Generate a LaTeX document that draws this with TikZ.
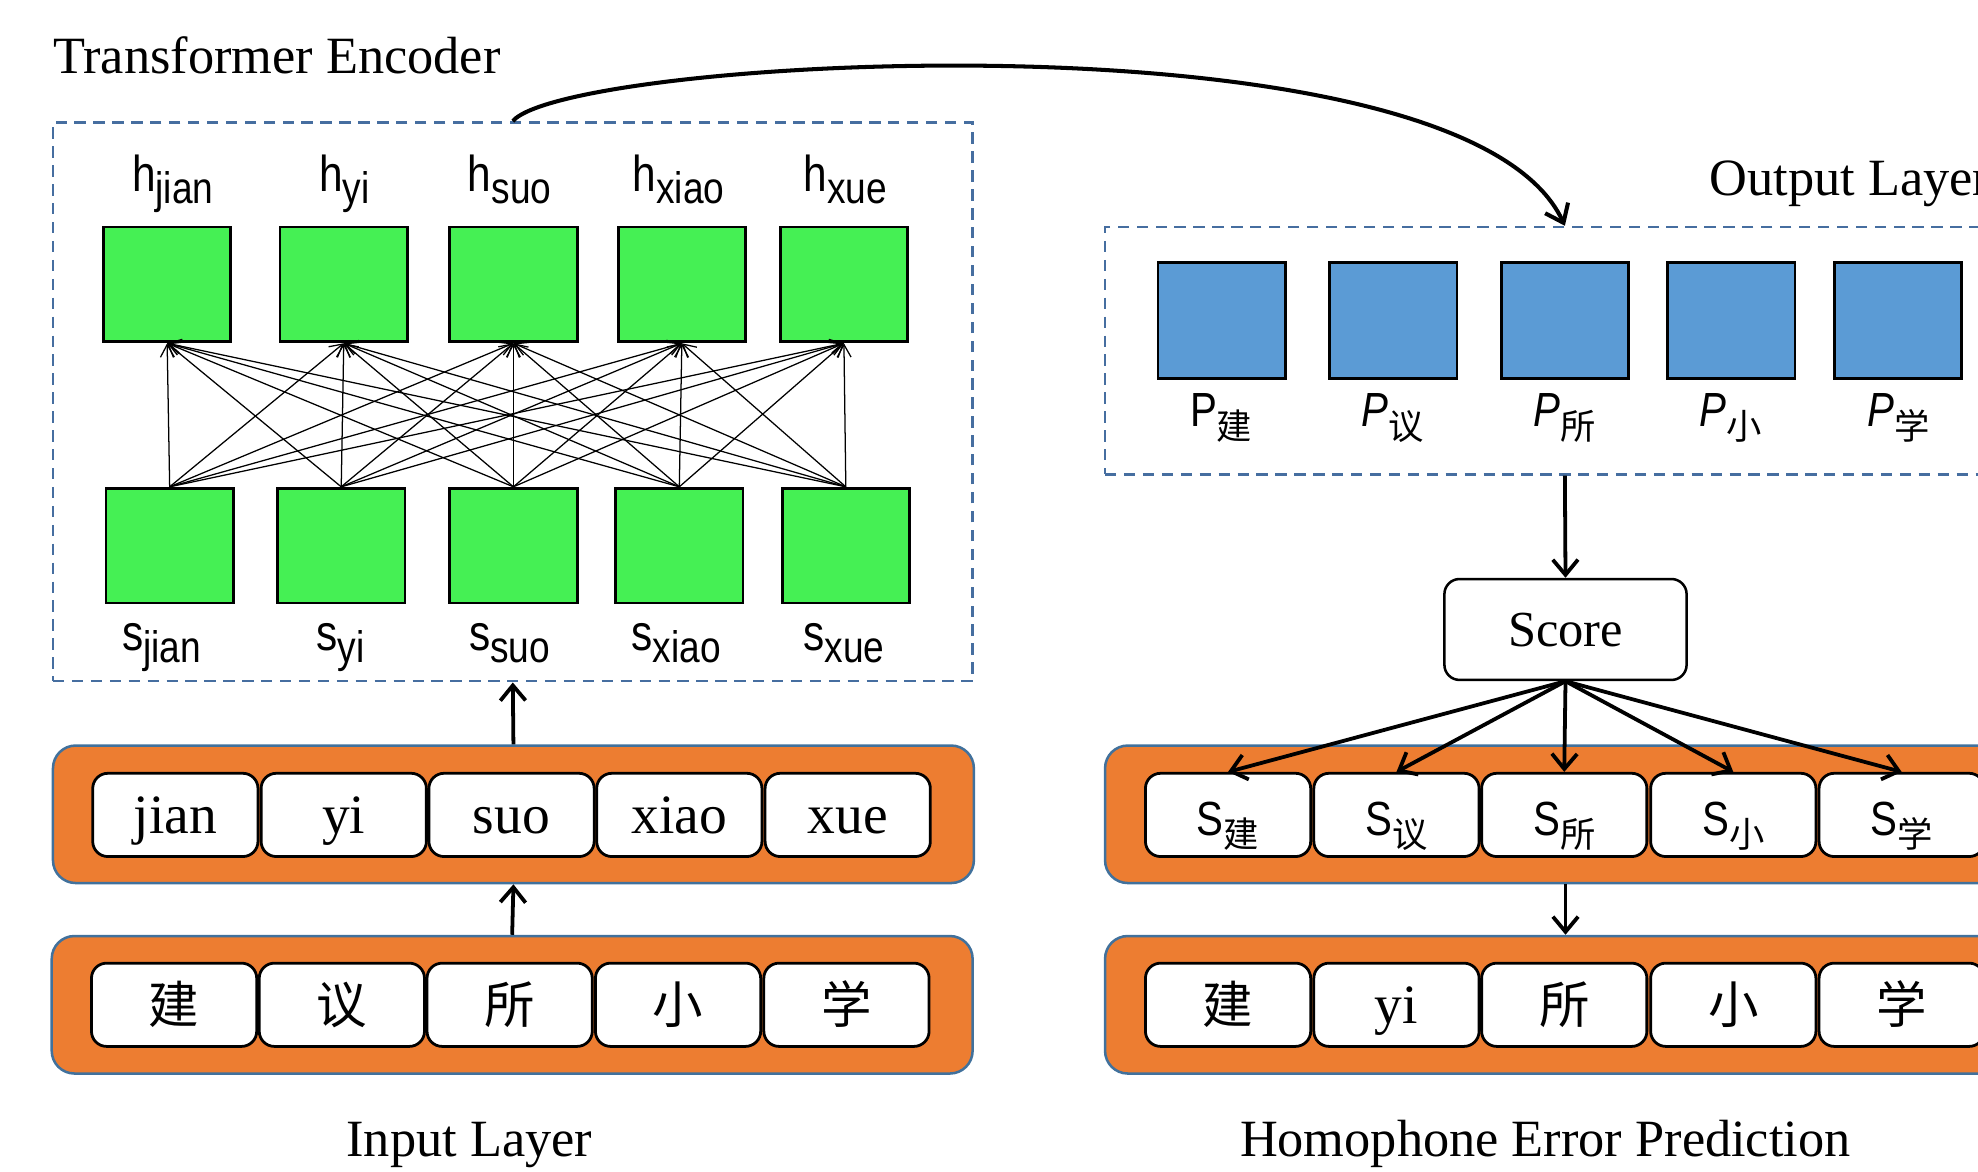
\documentclass[tikz,border=0pt]{standalone}
\usepackage{fontspec}
\setmainfont{Liberation Serif}
\newfontfamily\labfont[FakeStretch=0.84]{Liberation Sans}
\newfontfamily\cjk{Noto Sans CJK SC}
\usetikzlibrary{arrows.meta}
\definecolor{encgreen}{RGB}{69,240,84}
\definecolor{outblue}{RGB}{91,155,213}
\definecolor{boxorange}{RGB}{237,125,49}
\definecolor{edgeblue}{RGB}{65,113,156}
\definecolor{dashblue}{RGB}{70,110,160}
\newcommand{\lsub}[1]{\raisebox{-9pt}{\fontsize{35}{35}\selectfont #1}}
\newcommand{\csub}[1]{\raisebox{-10pt}{\fontsize{28}{28}\cjk #1}}
\tikzset{
  gbox/.style={draw=black, line width=2.2pt, fill=encgreen, minimum width=101pt, minimum height=91pt, inner sep=0pt},
  bbox/.style={draw=black, line width=2.2pt, fill=outblue, minimum width=101pt, minimum height=92pt, inner sep=0pt},
  dashbox/.style={draw=dashblue, line width=2pt, dash pattern=on 9pt off 6pt, inner sep=0pt},
  ocont/.style={draw=edgeblue, line width=2pt, fill=boxorange, rounded corners=18pt, minimum width=730pt, minimum height=109pt, inner sep=0pt},
  wbox/.style={draw=black, line width=2.2pt, fill=white, rounded corners=12pt, minimum width=131pt, minimum height=66pt, inner sep=0pt, text height=29pt, text depth=0pt, font=\fontsize{44}{44}\selectfont},
  cbox/.style={wbox, text height=30pt, font=\fontsize{40}{40}\cjk},
  sbox/.style={wbox, text height=32pt, font=\fontsize{38}{38}\labfont},
  lab/.style={anchor=base, inner sep=0pt, font=\fontsize{40}{40}\labfont},
  plab/.style={anchor=base, inner sep=0pt, font=\fontsize{38}{38}\labfont},
  title/.style={inner sep=0pt, font=\fontsize{41.5}{41.5}\selectfont},
  thinarrow/.style={line width=1pt, -{Straight Barb[length=10pt,width=11pt]}},
  thickarrow/.style={line width=3pt, -{Straight Barb[length=12pt,width=20pt]}},
  curvearrow/.style={line width=3.2pt, -{Straight Barb[length=13pt,width=20pt]}},
}
\begin{document}
\begin{tikzpicture}[x=1pt,y=-1pt]
\useasboundingbox (0,0) rectangle (1568,929);
\clip (0,0) rectangle (1568,929);

% ---------- left side ----------
\node[title, anchor=base west] (tenc) at (42,58) {Transformer Encoder};
\node[dashbox, minimum width=729pt, minimum height=443pt] (enc) at (406.5,318.5) {};

\node[lab] (hl1) at (137,152) {h\lsub{jian}};
\node[lab] (hl2) at (273,152) {h\lsub{yi}};
\node[lab] (hl3) at (404,152) {h\lsub{suo}};
\node[lab] (hl4) at (538,152) {h\lsub{xiao}};
\node[lab] (hl5) at (670,152) {h\lsub{xue}};

\node[gbox] (h1) at (132.5,225.5) {};
\node[gbox] (h2) at (272.5,225.5) {};
\node[gbox] (h3) at (407,225.5) {};
\node[gbox] (h4) at (540.5,225.5) {};
\node[gbox] (h5) at (669,225.5) {};

\node[gbox] (s1) at (134.5,432.5) {};
\node[gbox] (s2) at (270.5,432.5) {};
\node[gbox] (s3) at (407,432.5) {};
\node[gbox] (s4) at (538.5,432.5) {};
\node[gbox] (s5) at (670.5,432.5) {};

\node[lab] (sl1) at (128,516) {s\lsub{jian}};
\node[lab] (sl2) at (270,516) {s\lsub{yi}};
\node[lab] (sl3) at (404,516) {s\lsub{suo}};
\node[lab] (sl4) at (536,516) {s\lsub{xiao}};
\node[lab] (sl5) at (669,516) {s\lsub{xue}};

\foreach \i in {1,...,5}{
  \foreach \j in {1,...,5}{
    \draw[thinarrow] (s\i.north) -- (h\j.south);
  }
}

\node[ocont] (in1) at (407,645.5) {};
\node[wbox] (a1) at (139,646) {jian};
\node[wbox] (a2) at (272.5,646) {yi};
\node[wbox] (a3) at (405.5,646) {suo};
\node[wbox] (a4) at (538.5,646) {xiao};
\node[wbox] (a5) at (672,646) {xue};

\node[ocont] (in2) at (406,796.5) {};
\node[cbox] (b1) at (138,796.5) {建};
\node[cbox] (b2) at (271,796.5) {议};
\node[cbox] (b3) at (404,796.5) {所};
\node[cbox] (b4) at (537.5,796.5) {小};
\node[cbox] (b5) at (671,796.5) {学};

\draw[thickarrow] (in1.north) -- (enc.south);
\draw[thickarrow] (in2.north) -- (in1.south);

\node[title, anchor=base] (tin) at (372,917) {Input Layer};

% ---------- right side ----------
\node[title, anchor=base west] (tout) at (1355,155) {Output Layer};
\node[dashbox, minimum width=729pt, minimum height=196pt] (out) at (1240.5,278) {};

\node[bbox] (p1) at (968.5,254) {};
\node[bbox] (p2) at (1104.5,254) {};
\node[bbox] (p3) at (1240.5,254) {};
\node[bbox] (p4) at (1372.5,254) {};
\node[bbox] (p5) at (1504.5,254) {};

\node[plab] (pl1) at (968,338) {P\csub{建}};
\node[plab] (pl2) at (1104,338) {\textit{P}\csub{议}};
\node[plab] (pl3) at (1240,338) {\textit{P}\csub{所}};
\node[plab] (pl4) at (1372,338) {\textit{P}\csub{小}};
\node[plab] (pl5) at (1505,338) {\textit{P}\csub{学}};

\node[draw=black, line width=2pt, fill=white, rounded corners=12pt, minimum width=192pt, minimum height=80pt, inner sep=0pt, text height=27pt, text depth=0pt, font=\fontsize{40}{40}\selectfont] (score) at (1241,499) {Score};

\node[ocont] (hp1) at (1241,645.5) {};
\node[sbox] (r1) at (973.5,646) {S\csub{建}};
\node[sbox] (r2) at (1107,646) {S\csub{议}};
\node[sbox] (r3) at (1240,646) {S\csub{所}};
\node[sbox] (r4) at (1374,646) {S\csub{小}};
\node[sbox] (r5) at (1507.5,646) {S\csub{学}};

\node[ocont] (hp2) at (1241,796.5) {};
\node[cbox] (q1) at (973.5,796.5) {建};
\node[wbox] (q2) at (1107,796.5) {yi};
\node[cbox] (q3) at (1240,796.5) {所};
\node[cbox] (q4) at (1374,796.5) {小};
\node[cbox] (q5) at (1507.5,796.5) {学};

\draw[curvearrow] (enc.north) .. controls (450,45) and (1160,5) .. (out.north);
\draw[thickarrow] (out.south) -- (score.north);
\foreach \k in {1,...,5}{
  \draw[thickarrow] (score.south) -- (r\k.north);
}
\draw[thickarrow] (hp1.south) -- (hp2.north);

\node[title, anchor=base] (thep) at (1225,917) {Homophone Error Prediction};
\end{tikzpicture}
\end{document}
